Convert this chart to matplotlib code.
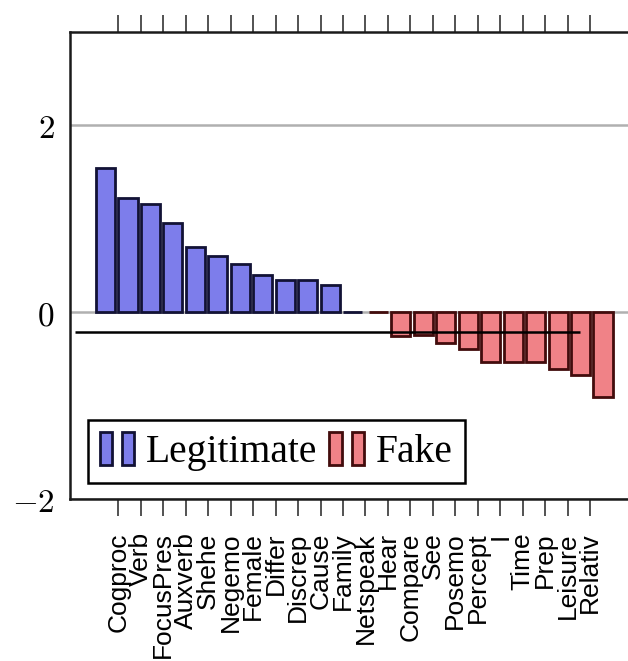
import numpy as np
import matplotlib

matplotlib.use("Agg")
import matplotlib.pyplot as plt  # noqa: E402
from matplotlib.legend_handler import HandlerTuple  # noqa: E402


# ---------------------------------------------------------------------------
# Data: LIWC category weights
# ---------------------------------------------------------------------------

CATEGORIES = [
    "Cogproc", "Verb", "FocusPres", "Auxverb", "Shehe", "Negemo", "Female",
    "Differ", "Discrep", "Cause", "Family", "Netspeak", "Hear", "Compare",
    "See", "Posemo", "Percept", "I", "Time", "Prep", "Leisure", "Relativ",
]

# Legitimate covers Cogproc..Netspeak, Fake covers Netspeak..Relativ
LEGIT_VALUES = [1.54, 1.22, 1.16, 0.96, 0.70, 0.60, 0.52, 0.40, 0.34, 0.34, 0.29, 0.0]
FAKE_VALUES = [0.0, -0.25, -0.24, -0.33, -0.39, -0.53, -0.53, -0.53, -0.61, -0.67, -0.91]

# Reference level drawn across the bars
REF_LEVEL = -0.21
REF_SPAN = (-1.93, 20.55)

Y_TICKS = [-2, 0, 2]
Y_TICK_LABELS = ["$-2$", "$0$", "$2$"]

# ---------------------------------------------------------------------------
# Figure
# ---------------------------------------------------------------------------

plt.rcParams["mathtext.fontset"] = "cm"

fig = plt.figure(figsize=(6.28, 6.61), dpi=100)
ax = fig.add_axes([0.1115, 0.2451, 0.9045, 0.7065])

x = np.arange(len(CATEGORIES))
legit_x = x[: len(LEGIT_VALUES)]
fake_x = x[len(CATEGORIES) - len(FAKE_VALUES):]

shift = 0.57
width = 0.85
legit = ax.bar(legit_x - shift, LEGIT_VALUES, width=width,
               color="#7d7deb", edgecolor="#121235", linewidth=2.0, zorder=3)
fake = ax.bar(fake_x + shift, FAKE_VALUES, width=width,
              color="#f08287", edgecolor="#420c0c", linewidth=2.0, zorder=3)

ax.hlines(REF_LEVEL, *REF_SPAN, color="black", linewidth=1.8, zorder=4)

ax.set_xlim(-2.15, 23.13)
ax.set_ylim(-2, 3)

ax.set_yticks(Y_TICKS)
ax.set_yticklabels(Y_TICK_LABELS, fontsize=24)
ax.tick_params(axis="y", length=0, pad=11)
ax.yaxis.grid(True, color="#b0b0b0", linewidth=1.8, zorder=0)
ax.set_axisbelow(True)

ax.set_xticks(x)
ax.set_xticklabels(CATEGORIES, rotation=90, va="top", ha="center",
                   fontsize=19, family="Liberation Sans")
ax.tick_params(axis="x", direction="out", top=True, length=12, width=1.3,
               color="#444444", pad=12)

for side in ("left", "top", "bottom", "right"):
    ax.spines[side].set_linewidth(1.8)
    ax.spines[side].set_color("#1a1a1a")

leg = ax.legend(
    [(legit[0], legit[0]), (fake[1], fake[1])],
    ["Legitimate", "Fake"],
    handler_map={tuple: HandlerTuple(ndivide=None, pad=0.26)},
    loc="lower left", bbox_to_anchor=(0.0317, 0.034), borderaxespad=0,
    ncol=2, handlelength=0.87, handleheight=0.9, handletextpad=0.3,
    columnspacing=0.3, borderpad=0.3,
    prop={"family": "Liberation Serif", "size": 28.5},
    fancybox=False, framealpha=1, edgecolor="black",
)
leg.get_frame().set_linewidth(1.8)

fig.savefig("out.png", dpi=100)
